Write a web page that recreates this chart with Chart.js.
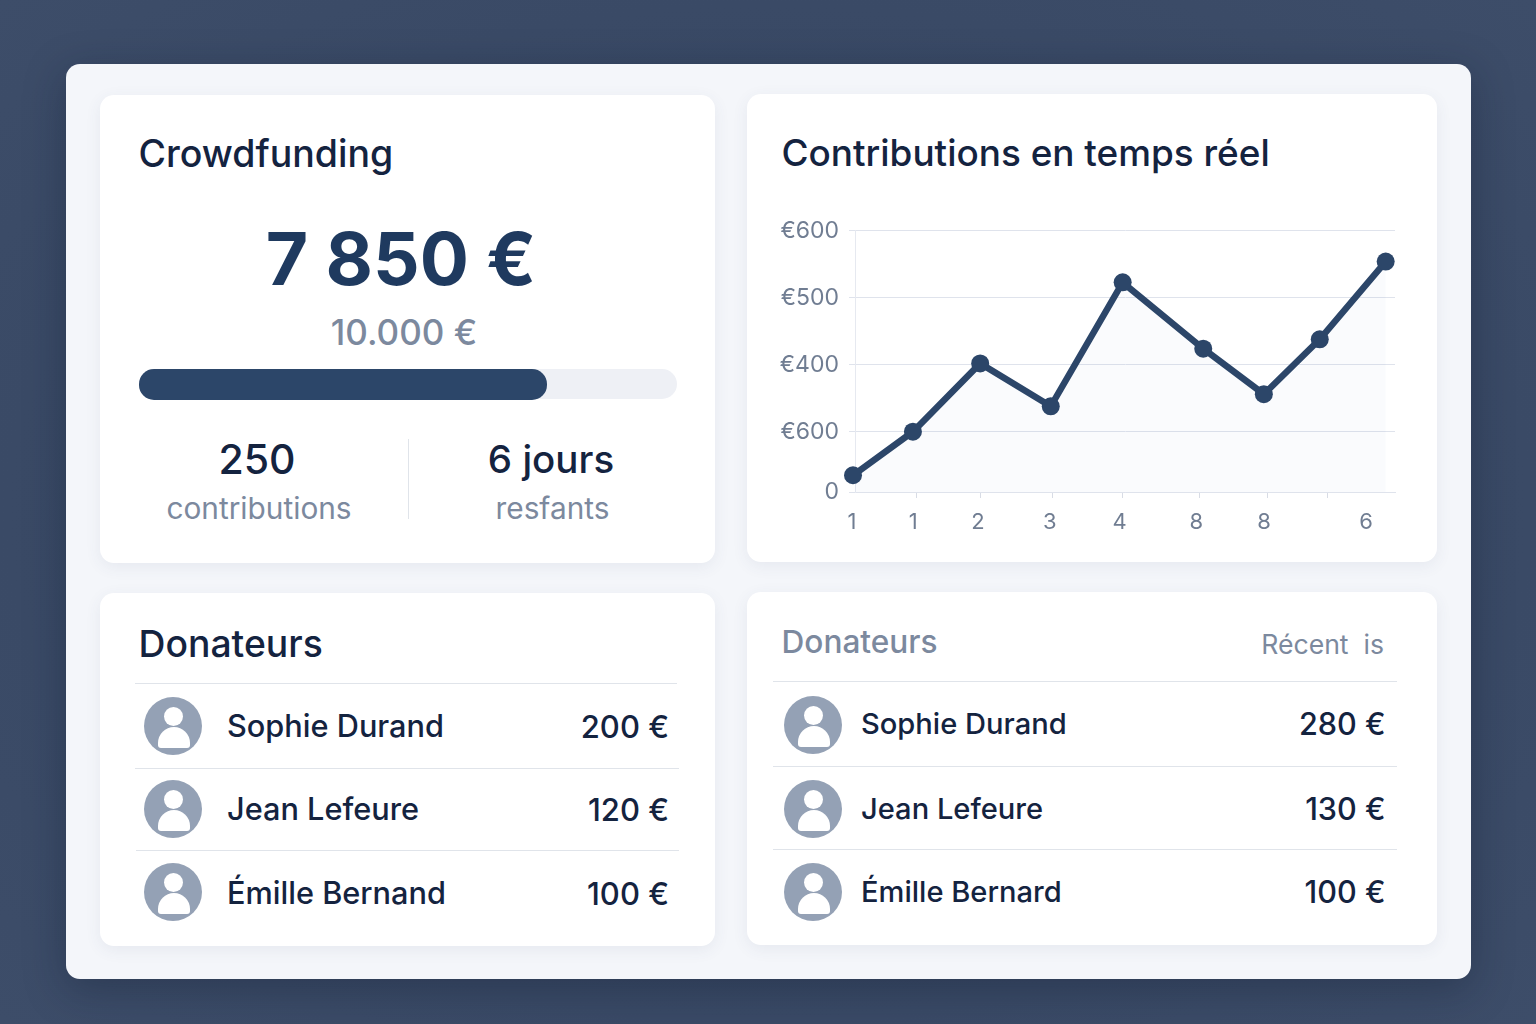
<!DOCTYPE html>
<html lang="fr">
<head>
<meta charset="utf-8">
<title>Crowdfunding</title>
<script src="https://cdn.jsdelivr.net/npm/chart.js@4"></script>
<style>
  html, body { margin: 0; width: 1536px; height: 1024px; overflow: hidden; }
  body {
    position: relative;
    font-family: Inter, "Noto Sans", sans-serif;
    background: radial-gradient(ellipse at 50% 50%, #33435f 0%, #3a4a66 70%, #3d4d69 100%);
  }
  .panel {
    position: absolute; left: 66px; top: 64px; width: 1405px; height: 915px;
    background: #f4f6fa; border-radius: 14px;
    box-shadow: 0 10px 40px rgba(15, 25, 45, 0.35);
  }
  .card {
    position: absolute; background: #fff; border-radius: 14px;
    box-shadow: 0 4px 16px rgba(60, 75, 110, 0.08);
  }
  .text { position: absolute; white-space: pre; line-height: 1; transform: translateY(-50%); }
  .center { transform: translate(-50%, -50%); }
  .right { transform: translate(-100%, -50%); }
  .rule { position: absolute; height: 1px; background: #e0e4ea; }
  .avatar { position: absolute; width: 58px; height: 58px; border-radius: 50%; background: #94a1b5; overflow: hidden; }
  .avatar .head { position: absolute; left: 20px; top: 10px; width: 19px; height: 19px; border-radius: 50%; background: #fff; }
  .avatar .body { position: absolute; left: 14px; top: 30px; width: 32px; height: 21px; border-radius: 16px 16px 3px 3px; background: #fff; }
  .track { position: absolute; left: 139px; top: 369px; width: 538px; height: 30px; border-radius: 15px; background: #eef0f5; }
  .fill { position: absolute; left: 139px; top: 369px; width: 408px; height: 31px; border-radius: 15px; background: #2c4669; }
  #chartWrap { position: absolute; left: 760px; top: 207px; width: 660px; height: 333px; }
</style>
</head>
<body>
<div class="panel"></div>
<div class="card" style="left:100px;top:95px;width:615px;height:468px"></div>
<div class="card" style="left:747px;top:94px;width:690px;height:468px"></div>
<div class="card" style="left:100px;top:593px;width:615px;height:353px"></div>
<div class="card" style="left:747px;top:592px;width:690px;height:353px"></div>
<div class="track"></div>
<div class="fill"></div>
<div class="rule" style="left:408px;top:439px;width:1px;height:80px"></div>
<div id="chartWrap"><canvas id="contributionsChart"></canvas></div>
<div id="labels"></div>

<script>
const TIMES = [0, 0.9, 1.91, 2.97, 4.05, 5.26, 6.17, 7.01, 8];
const CONTRIBUTIONS = [235, 300, 402, 338, 523, 424, 356, 438, 554];

const X_TICKS = [0.03, 0.95, 1.92, 3.0, 4.05, 5.2, 6.22, 7.12, 7.75];
const X_TICK_LABELS = ["1", "1", "2", "3", "4", "8", "8", "", "6"];
const Y_TICKS = [210, 300, 400, 500, 600];
const Y_TICK_LABELS = ["0", "€600", "€400", "€500", "€600"];

const LEFT_NAMES = ["Sophie Durand", "Jean Lefeure", "Émille Bernand"];
const LEFT_AMOUNTS = ["200 €", "120 €", "100 €"];
const RIGHT_NAMES = ["Sophie Durand", "Jean Lefeure", "Émille Bernard"];
const RIGHT_AMOUNTS = ["280 €", "130 €", "100 €"];

const INK = "#14233f";
const MUTED = "#7c899e";

document.addEventListener("DOMContentLoaded", init);

function init() {
  renderLabels();
  renderDonors(LEFT_NAMES, LEFT_AMOUNTS, {
    avatarX: 144, nameX: 227, amountX: 669, size: 30.7, amountSize: 31,
    rows: [726, 809, 892], textRows: [726, 809, 893],
  });
  renderDonors(RIGHT_NAMES, RIGHT_AMOUNTS, {
    avatarX: 784, nameX: 861, amountX: 1385.5, size: 29.1, amountSize: 30.6,
    rows: [725, 809, 892], textRows: [723.5, 808.5, 891.5],
  });
  renderRules([[135, 683, 542], [135, 768, 544], [136, 850, 543], [773, 681, 624], [773, 766, 624], [773, 849, 624]]);
  renderChart();
}

function addText(text, x, y, size, weight, color, align) {
  const el = document.createElement("div");
  el.className = `text ${align || ""}`;
  el.textContent = text;
  el.style.cssText = `left:${x}px;top:${y}px;font-size:${size}px;font-weight:${weight};color:${color}`;
  document.getElementById("labels").appendChild(el);
}

function renderLabels() {
  addText("Crowdfunding", 138.5, 153.5, 37.5, 500, INK);
  addText("7 850 €", 401, 258, 73, 700, "#1f3a5f", "center");
  addText("10.000 €", 404, 331.5, 35, 500, MUTED, "center");
  addText("250", 257, 459, 41, 500, INK, "center");
  addText("contributions", 259, 508.5, 29.8, 400, MUTED, "center");
  addText("6 jours", 551, 459, 38.5, 500, INK, "center");
  addText("resfants", 552.5, 508.5, 29.8, 400, MUTED, "center");
  addText("Contributions en temps réel", 781.5, 152.5, 36.9, 500, INK);
  addText("Donateurs", 138.5, 643.5, 37.3, 500, INK);
  addText("Donateurs", 781.5, 642, 31.6, 500, MUTED);
  addText("Récent  is", 1384, 644, 26.6, 400, MUTED, "right");
}

function renderDonors(names, amounts, opts) {
  const labels = document.getElementById("labels");
  names.forEach((name, index) => {
    const avatar = document.createElement("div");
    avatar.className = "avatar";
    avatar.style.left = `${opts.avatarX}px`;
    avatar.style.top = `${opts.rows[index] - 29}px`;
    avatar.innerHTML = '<div class="head"></div><div class="body"></div>';
    labels.appendChild(avatar);
    addText(name, opts.nameX, opts.textRows[index], opts.size, 500, INK);
    addText(amounts[index], opts.amountX, opts.textRows[index], opts.amountSize, 500, INK, "right");
  });
}

function renderRules(rules) {
  rules.forEach(([x, y, width]) => {
    const el = document.createElement("div");
    el.className = "rule";
    el.style.cssText = `left:${x}px;top:${y}px;width:${width}px`;
    document.getElementById("labels").appendChild(el);
  });
}

function renderChart() {
  Chart.defaults.font.family = "Inter, 'Noto Sans', sans-serif";
  new Chart(document.getElementById("contributionsChart"), {
    type: "line",
    data: {
      datasets: [{
        data: TIMES.map((time, index) => ({ x: time, y: CONTRIBUTIONS[index] })),
        borderColor: "#2c4669",
        backgroundColor: "rgba(90, 105, 170, 0.028)",
        borderWidth: 6.5,
        pointRadius: 9,
        pointBackgroundColor: "#2c4669",
        pointBorderWidth: 0,
        tension: 0,
        fill: "start",
        clip: false,
      }],
    },
    options: {
      responsive: true,
      maintainAspectRatio: false,
      animation: false,
      layout: { padding: { top: 17, right: 25 } },
      plugins: { legend: { display: false }, tooltip: { enabled: false } },
      scales: {
        x: {
          type: "linear",
          min: 0.03,
          max: 8.14,
          afterBuildTicks: (axis) => { axis.ticks = X_TICKS.map((value) => ({ value })); },
          afterFit: (axis) => { axis.height = 48; },
          border: { color: "#dfe3ec", width: 1 },
          grid: {
            drawOnChartArea: false,
            tickLength: 6,
            color: (ctx) => (ctx.index === 0 || ctx.index === 8 ? "transparent" : "#d8dce5"),
          },
          ticks: {
            autoSkip: false,
            maxRotation: 0,
            padding: 11,
            labelOffset: -3,
            color: "#707d92",
            font: { size: 22 },
            callback: (value, index) => X_TICK_LABELS[index],
          },
        },
        y: {
          type: "linear",
          min: 210,
          max: 600,
          afterBuildTicks: (axis) => { axis.ticks = Y_TICKS.map((value) => ({ value })); },
          afterFit: (axis) => { axis.width = 95; },
          border: { color: "#e6e9f0", width: 1 },
          grid: { color: "#dfe3ec", tickLength: 6 },
          ticks: {
            padding: 10,
            color: "#707d92",
            font: { size: 23 },
            callback: (value, index) => Y_TICK_LABELS[index],
          },
        },
      },
    },
  });
}
</script>
</body>
</html>
